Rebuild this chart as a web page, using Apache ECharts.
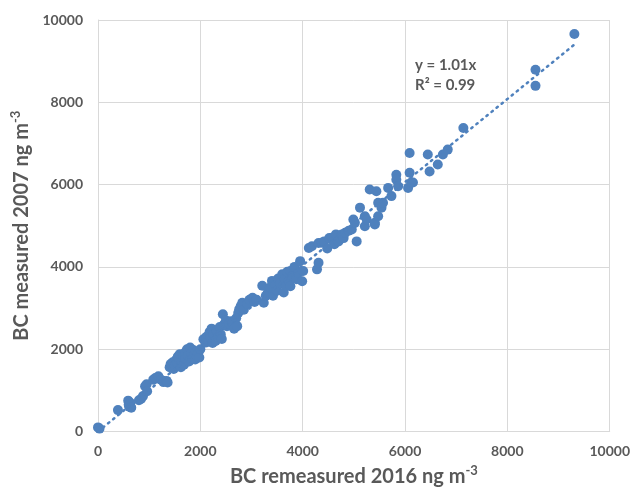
<!DOCTYPE html>
<html>
<head>
<meta charset="utf-8">
<script src="https://cdn.jsdelivr.net/npm/echarts@6/dist/echarts.min.js"></script>
<style>
  html, body { margin: 0; padding: 0; background: #fff; }
  #chart { width: 633px; height: 492px; }
</style>
</head>
<body>
<div id="chart"></div>
<script>
// BC 2016 remeasured (x) vs 2007 measured (y), ng m-3
var points = [
    [0, 100], [30, 70], [390, 520], [590, 750], [610, 600], [630, 700], [600, 650], [650, 580],
    [800, 760], [840, 790], [880, 860], [920, 1100], [950, 1150], [960, 980], [1080, 1260],
    [1120, 1300], [1180, 1340], [1230, 1260], [1280, 1200], [1340, 1230], [1360, 1190],
    [1400, 1560], [1420, 1640], [1460, 1680], [1480, 1520], [1500, 1600], [1530, 1750],
    [1550, 1660], [1560, 1820], [1590, 1760], [1600, 1880], [1620, 1560], [1640, 1700],
    [1660, 1840], [1680, 1620], [1700, 1920], [1710, 1760], [1740, 2000], [1760, 1840],
    [1780, 1700], [1800, 2040], [1820, 1900], [1840, 1780], [1860, 1980], [1880, 1860],
    [1900, 1750], [1920, 1940], [1940, 1820], [1960, 1900], [1980, 1800], [2000, 2000],
    [2060, 2240], [2100, 2160], [2120, 2300], [2150, 2200], [2180, 2420], [2200, 2280],
    [2220, 2500], [2240, 2150], [2260, 2360], [2300, 2200], [2320, 2440], [2350, 2300],
    [2380, 2540], [2400, 2360], [2420, 2250], [2440, 2850], [2460, 2600], [2500, 2700],
    [2520, 2560], [2560, 2620], [2600, 2680], [2630, 2640], [2660, 2500], [2700, 2750],
    [2720, 2560], [2740, 2880], [2760, 2970], [2790, 3050], [2820, 3130], [2850, 2960],
    [2920, 3100], [2960, 3200], [3020, 3250], [3060, 3150], [3100, 3200], [3210, 3540],
    [3240, 3130], [3280, 3300], [3320, 3380], [3360, 3500], [3400, 3660], [3420, 3300],
    [3460, 3560], [3500, 3420], [3520, 3720], [3560, 3600], [3600, 3820], [3630, 3380],
    [3650, 3700], [3680, 3540], [3700, 3880], [3730, 3640], [3760, 3900], [3760, 3530],
    [3800, 3780], [3840, 4000], [3880, 3700], [3920, 3860], [3950, 4140], [3990, 3650],
    [4010, 3900], [4120, 4460], [4180, 4500], [4280, 3940], [4310, 4100], [4310, 4580],
    [4375, 4585], [4420, 4620], [4480, 4450], [4520, 4700], [4570, 4710], [4620, 4550],
    [4650, 4790], [4700, 4620], [4765, 4790], [4800, 4700], [4830, 4830], [4900, 4880],
    [4960, 4910], [4990, 5150], [5055, 4620], [5020, 5070], [5120, 5440], [5215, 4990],
    [5215, 5230], [5250, 5150], [5310, 5880], [5410, 5030], [5410, 5070], [5440, 5840],
    [5475, 5230], [5475, 5560], [5540, 5440], [5570, 5560], [5670, 5920], [5735, 5720],
    [5830, 6240], [5830, 6120], [5865, 5960], [6060, 5920], [6090, 6290], [6090, 6770],
    [6155, 6050], [6120, 6050], [6445, 6730], [6480, 6320], [6640, 6490], [6740, 6730],
    [6835, 6850], [7140, 7375], [8550, 8790], [8550, 8400], [9310, 9660]
];
var slope = 1.01;
var rSquared = 0.99;
var axisMax = 10000;
var tickStep = 2000;

var xMax = Math.max.apply(null, points.map(function (p) { return p[0]; }));
var trend = [[0, 0], [xMax, slope * xMax]];

var grey = '#595959';
var font = 'Lato, "Open Sans", sans-serif';
var plain = function (v) { return String(v); };

var nameStyle = {
    color: grey, fontSize: 20, fontWeight: 'bold', fontFamily: font,
    rich: { sup: { fontSize: 13, fontWeight: 'bold', color: grey, fontFamily: font, verticalAlign: 'top', padding: [0, 0, 12, 0] } }
};

var myChart = echarts.init(document.getElementById('chart'));
var option = {
    animation: false,
    grid: { left: 98, right: 20, top: 20, bottom: 60 },
    xAxis: {
        type: 'value', min: 0, max: axisMax, interval: tickStep,
        name: 'BC remeasured 2016 ng m{sup|-3}',
        nameLocation: 'middle', nameGap: 33,
        nameTextStyle: nameStyle,
        axisLine: { lineStyle: { color: '#d9d9d9' } },
        axisTick: { show: false },
        axisLabel: { color: grey, fontSize: 14, fontWeight: 'bold', fontFamily: font, margin: 13, formatter: plain },
        splitLine: { lineStyle: { color: '#d9d9d9' } }
    },
    yAxis: {
        type: 'value', min: 0, max: axisMax, interval: tickStep,
        name: 'BC measured 2007 ng m{sup|-3}',
        nameLocation: 'middle', nameGap: 62, nameRotate: 90,
        nameTextStyle: nameStyle,
        axisLine: { show: true, lineStyle: { color: '#d9d9d9' } },
        axisTick: { show: false },
        axisLabel: { color: grey, fontSize: 14, fontWeight: 'bold', fontFamily: font, margin: 15, formatter: plain },
        splitLine: { lineStyle: { color: '#d9d9d9' } }
    },
    graphic: [
        {
            type: 'text', left: 415, top: 58,
            style: { text: 'y = 1.01x', fill: grey, font: 'bold 15px ' + font }
        },
        {
            type: 'text', left: 415, top: 78,
            style: { text: 'R\u00b2 = ' + rSquared.toFixed(2), fill: grey, font: 'bold 15px ' + font }
        }
    ],
    series: [
        {
            name: 'BC',
            type: 'scatter',
            data: points,
            symbolSize: 10,
            itemStyle: { color: '#4f81bd', opacity: 1 },
            z: 2
        },
        {
            name: 'trend',
            type: 'line',
            data: trend,
            symbol: 'none',
            lineStyle: { color: '#4f81bd', width: 2.5, type: [1.5, 5], cap: 'round' },
            z: 3
        }
    ]
};
myChart.setOption(option);
</script>
</body>
</html>
